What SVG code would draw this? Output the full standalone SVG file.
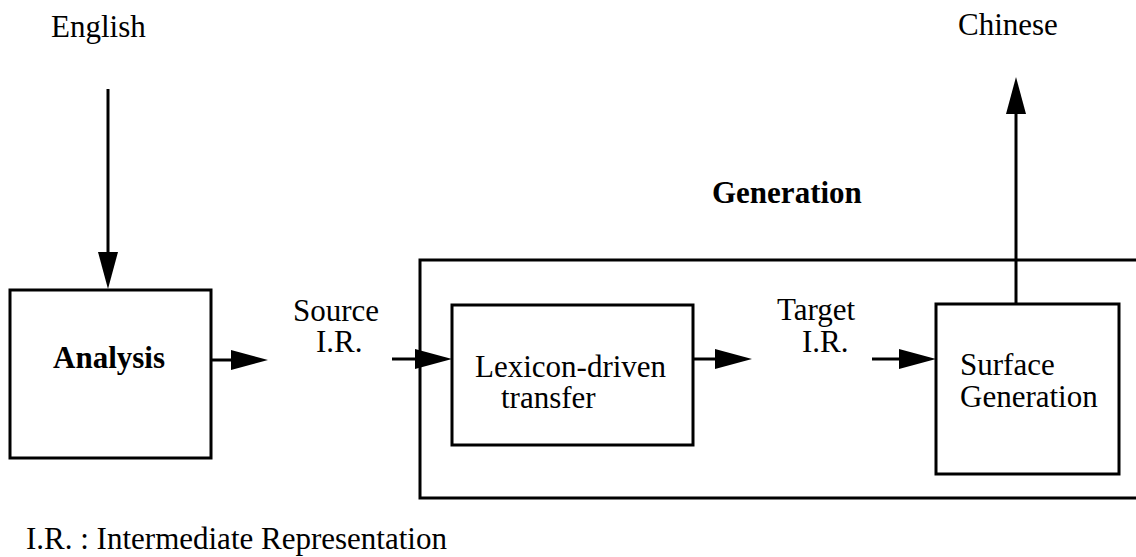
<svg xmlns="http://www.w3.org/2000/svg" width="1136" height="557" viewBox="0 0 1136 557">
<style>
  .box { fill: none; stroke: #000; stroke-width: 3; }
  .ln { fill: none; stroke: #000; stroke-width: 3; }
  .t { font-family: "Liberation Serif", "Times New Roman", serif; font-size: 31px; fill: #000; }
  .b { font-weight: bold; }
</style>
<defs>
  <marker id="ah" markerUnits="userSpaceOnUse" markerWidth="38" markerHeight="20" refX="0" refY="10" orient="auto" overflow="visible">
    <path d="M0,0 L37,10 L0,20 Z" fill="#000"/>
  </marker>
</defs>
<rect width="1136" height="557" fill="#fff"/>

<g id="english"><text class="t" x="51" y="37">English</text></g>
<g id="chinese"><text class="t" x="958" y="35">Chinese</text></g>
<g id="generation-label"><text class="t b" x="712" y="203">Generation</text></g>

<g id="analysis">
  <rect class="box" x="10" y="290" width="201" height="168"/>
  <text class="t b" x="53" y="368">Analysis</text>
</g>

<g id="source-ir">
  <text class="t" x="293" y="321">Source</text>
  <text class="t" x="316" y="352">I.R.</text>
</g>

<g id="generation">
  <path class="box" d="M1140,260 H420 V498 H1140"/>
</g>

<g id="lexicon">
  <rect class="box" x="452" y="305" width="241" height="140"/>
  <text class="t" x="475" y="377">Lexicon-driven</text>
  <text class="t" x="501" y="408">transfer</text>
</g>

<g id="target-ir">
  <text class="t" x="777" y="320">Target</text>
  <text class="t" x="802" y="352">I.R.</text>
</g>

<g id="surface">
  <rect class="box" x="936" y="304" width="183" height="170"/>
  <text class="t" x="960" y="375">Surface</text>
  <text class="t" x="960" y="407">Generation</text>
</g>

<g id="connectors">
  <line class="ln" x1="108" y1="89" x2="108" y2="252" marker-end="url(#ah)"/>
  <line class="ln" x1="211" y1="360" x2="231" y2="360" marker-end="url(#ah)"/>
  <line class="ln" x1="392" y1="359" x2="415" y2="359" marker-end="url(#ah)"/>
  <line class="ln" x1="693" y1="359" x2="715" y2="359" marker-end="url(#ah)"/>
  <line class="ln" x1="872" y1="359" x2="899" y2="359" marker-end="url(#ah)"/>
  <line class="ln" x1="1016" y1="304" x2="1016" y2="114" marker-end="url(#ah)"/>
</g>

<g id="footnote"><text class="t" x="26" y="549">I.R. : Intermediate Representation</text></g>
</svg>
